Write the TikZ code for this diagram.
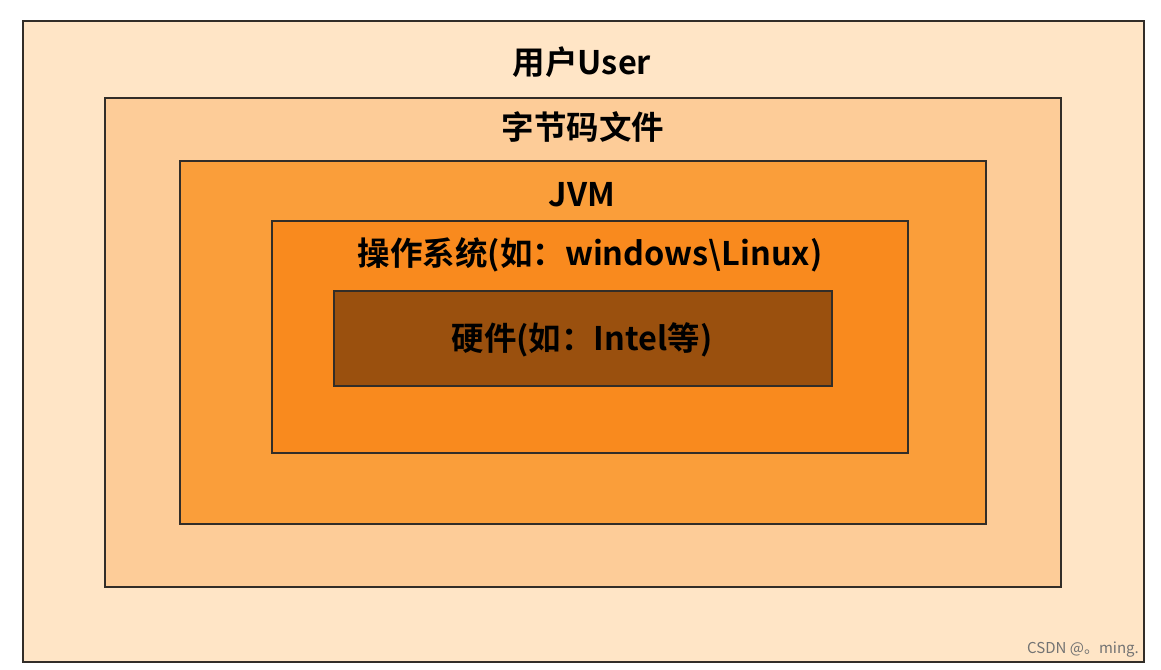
\documentclass[tikz,border=0pt]{standalone}
\usepackage{fontspec}
\newfontfamily\cjk{Noto Sans CJK SC}[BoldFont={* Bold}]
\definecolor{c1}{RGB}{255,229,198}
\definecolor{c2}{RGB}{253,204,152}
\definecolor{c3}{RGB}{250,158,58}
\definecolor{c4}{RGB}{249,138,30}
\definecolor{c5}{RGB}{154,80,14}
\definecolor{edge}{RGB}{50,45,40}
\begin{document}
\begin{tikzpicture}[x=1pt,y=-1pt,
  layer/.style={draw=edge,line width=2.8pt,inner sep=0pt,outer sep=0pt},
  lbl/.style={font=\cjk\bfseries\fontsize{32.5}{38}\selectfont,text=black,inner sep=0pt}]
\useasboundingbox[fill=white] (0,0) rectangle (1161,669);
\node[layer,fill=c1,minimum width=1121pt,minimum height=641pt] (user) at (583.5,341.5) {};
\node[layer,fill=c2,minimum width=956pt,minimum height=489pt] (byte) at (583,342.5) {};
\node[layer,fill=c3,minimum width=806pt,minimum height=363pt] (jvm) at (583,342.5) {};
\node[layer,fill=c4,minimum width=636pt,minimum height=232pt] (os) at (590,337) {};
\node[layer,fill=c5,minimum width=498pt,minimum height=95pt] (hw) at (583,338.5) {};
\node[lbl] (tuser) at (582,62) {用户User};
\node[lbl] (tbyte) at (583,127) {字节码文件};
\node[lbl] (tjvm) at (582,195) {JVM};
\node[lbl] (tos) at (590,255) {操作系统(如：windows\textbackslash Linux)};
\node[lbl] (thw) at (582,340) {硬件(如：Intel等)};
\node[font=\cjk\fontsize{15}{18}\selectfont,text=black!55,anchor=east,inner sep=0pt] (wm) at (1139,650) {CSDN @。ming.};
\end{tikzpicture}
\end{document}
